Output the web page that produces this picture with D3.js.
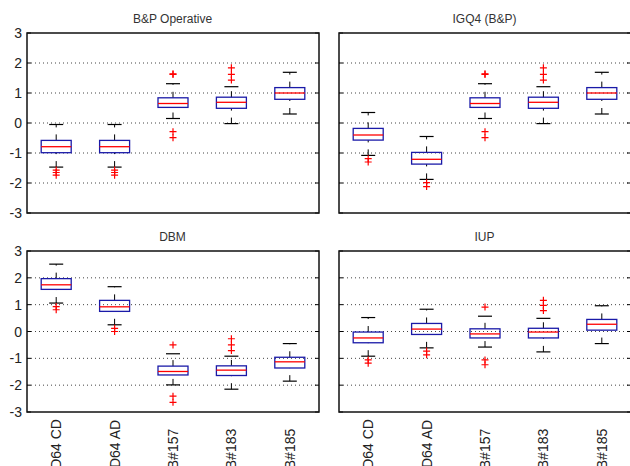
<!DOCTYPE html>
<html><head><meta charset="utf-8">
<script src="https://cdn.jsdelivr.net/npm/d3@7"></script>
<style>body{margin:0;background:#fff}svg{display:block;font-family:"Liberation Sans",Arial,sans-serif}</style>
</head><body><svg id="c" width="630" height="466"></svg>
<script>
const categories = ["CD64 CD","CD64 AD","B#157","B#183","B#185"];
const panelTitles = ["B&P Operative","IGQ4 (B&P)","DBM","IUP"];
const yTicks = [-3,-2,-1,0,1,2,3];

const bpLow  = [-1.47,-1.47,0.15,-0.02,0.30];
const bpQ1   = [-0.99,-0.99,0.52,0.49,0.79];
const bpMed  = [-0.79,-0.79,0.65,0.69,1.00];
const bpQ3   = [-0.58,-0.58,0.84,0.86,1.18];
const bpHigh = [-0.05,-0.05,1.31,1.21,1.69];
const bpOut  = [[-1.57,-1.65,-1.74],[-1.57,-1.65,-1.74],[1.62,1.64,-0.29,-0.49],[1.84,1.62,1.43],[]];

const igLow  = [-1.08,-1.88,0.15,-0.02,0.30];
const igQ1   = [-0.57,-1.37,0.52,0.49,0.79];
const igMed  = [-0.40,-1.21,0.65,0.69,1.00];
const igQ3   = [-0.18,-0.98,0.84,0.86,1.18];
const igHigh = [0.35,-0.45,1.31,1.21,1.69];
const igOut  = [[-1.19,-1.30],[-1.99,-2.12],[1.62,1.64,-0.29,-0.49],[1.84,1.62,1.43],[]];

const dbmLow  = [1.06,0.25,-1.99,-2.15,-1.85];
const dbmQ1   = [1.57,0.75,-1.62,-1.64,-1.36];
const dbmMed  = [1.74,0.92,-1.49,-1.44,-1.13];
const dbmQ3   = [1.97,1.16,-1.29,-1.28,-0.96];
const dbmHigh = [2.51,1.67,-0.83,-0.92,-0.45];
const dbmOut  = [[0.93,0.81],[0.12,0.0],[-0.50,-2.41,-2.64],[-0.27,-0.50,-0.71],[]];

const iupLow  = [-0.92,-0.61,-0.58,-0.76,-0.45];
const iupQ1   = [-0.42,-0.11,-0.24,-0.24,0.05];
const iupMed  = [-0.24,0.09,-0.09,-0.02,0.27];
const iupQ3   = [-0.02,0.30,0.10,0.12,0.45];
const iupHigh = [0.52,0.83,0.57,0.49,0.96];
const iupOut  = [[-1.06,-1.18],[-0.73,-0.87],[0.91,-1.06,-1.24],[1.16,0.97,0.78],[]];

const panels = [
  {title:panelTitles[0], low:bpLow, q1:bpQ1, med:bpMed, q3:bpQ3, high:bpHigh, out:bpOut, x0:27, x1:319, y0:33, y1:213, yLab:true, xLab:false},
  {title:panelTitles[1], low:igLow, q1:igQ1, med:igMed, q3:igQ3, high:igHigh, out:igOut, x0:339, x1:631, y0:33, y1:213, yLab:false, xLab:false},
  {title:panelTitles[2], low:dbmLow, q1:dbmQ1, med:dbmMed, q3:dbmQ3, high:dbmHigh, out:dbmOut, x0:27, x1:319, y0:251, y1:412, yLab:true, xLab:true},
  {title:panelTitles[3], low:iupLow, q1:iupQ1, med:iupMed, q3:iupQ3, high:iupHigh, out:iupOut, x0:339, x1:631, y0:251, y1:412, yLab:false, xLab:true}
];

const svg = d3.select("#c");
panels.forEach(p => {
  const x = d3.scaleBand().domain(categories).range([p.x0, p.x1]);
  const y = d3.scaleLinear().domain([-3,3]).range([p.y1, p.y0]);
  const g = svg.append("g");
  const bw = 30, cw = 14;
  g.selectAll("line.grid").data(yTicks.filter(t => t > -3 && t < 3)).enter().append("line")
    .attr("x1", p.x0).attr("x2", p.x1).attr("y1", d => y(d)).attr("y2", d => y(d))
    .attr("stroke", "#444").attr("stroke-width", 1).attr("stroke-dasharray", "1,3");
  yTicks.forEach(t => {
    g.append("line").attr("x1", p.x0).attr("x2", p.x0 + 4).attr("y1", y(t)).attr("y2", y(t)).attr("stroke", "#000");
    g.append("line").attr("x1", p.x1 - 4).attr("x2", p.x1).attr("y1", y(t)).attr("y2", y(t)).attr("stroke", "#000");
  });
  categories.forEach((c, i) => {
    const cx = x(c) + x.bandwidth() / 2;
    g.append("line").attr("x1", cx).attr("x2", cx).attr("y1", y(p.q3[i])).attr("y2", y(p.high[i]))
      .attr("stroke", "#000").attr("stroke-dasharray", "6,7");
    g.append("line").attr("x1", cx).attr("x2", cx).attr("y1", y(p.low[i])).attr("y2", y(p.q1[i]))
      .attr("stroke", "#000").attr("stroke-dasharray", "6,7");
    [p.low[i], p.high[i]].forEach(v => g.append("line").attr("x1", cx - cw/2).attr("x2", cx + cw/2)
      .attr("y1", y(v)).attr("y2", y(v)).attr("stroke", "#000").attr("stroke-width", 1.2));
    g.append("rect").attr("x", cx - bw/2).attr("y", y(p.q3[i])).attr("width", bw)
      .attr("height", y(p.q1[i]) - y(p.q3[i])).attr("fill", "none").attr("stroke", "#1a1aa8").attr("stroke-width", 1.3);
    g.append("line").attr("x1", cx - bw/2).attr("x2", cx + bw/2).attr("y1", y(p.med[i])).attr("y2", y(p.med[i]))
      .attr("stroke", "#f00").attr("stroke-width", 1.3);
    p.out[i].forEach(v => {
      g.append("path").attr("d", `M${cx-3.5},${y(v)}H${cx+3.5}M${cx},${y(v)-3.5}V${y(v)+3.5}`)
        .attr("stroke", "#f00").attr("stroke-width", 1.2).attr("fill", "none");
    });
    if (p.xLab) {
      svg.append("text").attr("transform", `translate(${cx+5},${p.y1+37}) rotate(-90)`)
        .attr("text-anchor", "middle").attr("font-size", 14).attr("fill", "#222").text(c);
    }
  });
  g.append("rect").attr("x", p.x0).attr("y", p.y0).attr("width", p.x1 - p.x0).attr("height", p.y1 - p.y0)
    .attr("fill", "none").attr("stroke", "#111").attr("stroke-width", 1.5);
  if (p.yLab) {
    g.selectAll("text.yl").data(yTicks).enter().append("text")
      .attr("x", p.x0 - 5).attr("y", d => y(d)).attr("dy", "0.36em").attr("text-anchor", "end")
      .attr("font-size", 14).attr("fill", "#222").text(d => d);
  }
  g.append("text").attr("x", (p.x0 + p.x1 - 1) / 2).attr("y", p.y0 - 10)
    .attr("text-anchor", "middle").attr("font-size", 12).attr("fill", "#333").text(p.title);
});
</script></body></html>
